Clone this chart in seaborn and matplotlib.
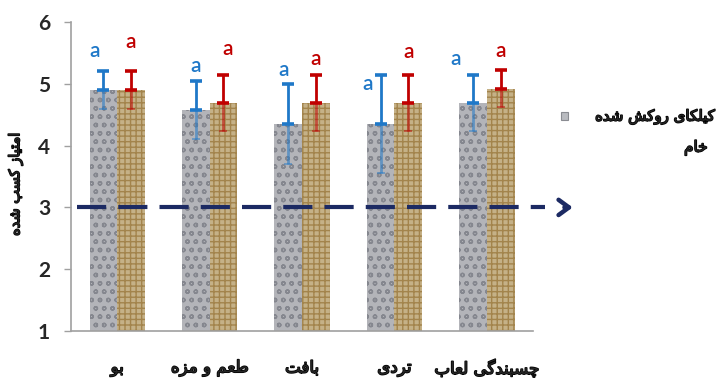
import matplotlib
matplotlib.use("Agg")
import matplotlib.pyplot as plt
import pandas as pd
import seaborn as sns
from matplotlib import patheffects as pe
from matplotlib.patches import Rectangle

# ---- data -------------------------------------------------------------
categories = ["بو", "طعم و مزه", "بافت", "تردی", "چسبندگی لعاب"]
series = ["کیلکای روکش شده", "خام"]
coated_mean = [4.90, 4.57, 4.35, 4.35, 4.69]
coated_sd = [0.30, 0.47, 0.65, 0.80, 0.45]
raw_mean = [4.90, 4.69, 4.69, 4.69, 4.92]
raw_sd = [0.30, 0.45, 0.45, 0.45, 0.30]
coated_letters = ["a", "a", "a", "a", "a"]
raw_letters = ["a", "a", "a", "a", "a"]
acceptance_limit = 3.0
y_label = "امتیاز کسب شده"
y_ticks = [1, 2, 3, 4, 5, 6]

# ---- letter placement tweaks (axis units) -----------------------------
coated_letter_dx = [-0.10, 0.00, -0.05, -0.14, -0.19]
coated_letter_dy = [0.33, 0.25, 0.23, -0.15, 0.26]
raw_letter_dx = [0.00, 0.05, 0.00, 0.00, 0.00]
raw_letter_dy = [0.48, 0.43, 0.26, 0.38, 0.31]

# ---- minimal Persian shaping (contextual forms + visual order) --------
_FORMS = {
    "ا": ("\uFE8D", "\uFE8E", None, None),
    "ب": ("\uFE8F", "\uFE90", "\uFE91", "\uFE92"),
    "ت": ("\uFE95", "\uFE96", "\uFE97", "\uFE98"),
    "خ": ("\uFEA5", "\uFEA6", "\uFEA7", "\uFEA8"),
    "د": ("\uFEA9", "\uFEAA", None, None),
    "ر": ("\uFEAD", "\uFEAE", None, None),
    "ز": ("\uFEAF", "\uFEB0", None, None),
    "س": ("\uFEB1", "\uFEB2", "\uFEB3", "\uFEB4"),
    "ش": ("\uFEB5", "\uFEB6", "\uFEB7", "\uFEB8"),
    "ط": ("\uFEC1", "\uFEC2", "\uFEC3", "\uFEC4"),
    "ع": ("\uFEC9", "\uFECA", "\uFECB", "\uFECC"),
    "ف": ("\uFED1", "\uFED2", "\uFED3", "\uFED4"),
    "ل": ("\uFEDD", "\uFEDE", "\uFEDF", "\uFEE0"),
    "م": ("\uFEE1", "\uFEE2", "\uFEE3", "\uFEE4"),
    "ن": ("\uFEE5", "\uFEE6", "\uFEE7", "\uFEE8"),
    "ه": ("\uFEE9", "\uFEEA", "\uFEEB", "\uFEEC"),
    "و": ("\uFEED", "\uFEEE", None, None),
    "ی": ("\uFBFC", "\uFBFD", "\uFBFE", "\uFBFF"),
    "ک": ("\uFB8E", "\uFB8F", "\uFB90", "\uFB91"),
    "گ": ("\uFB92", "\uFB93", "\uFB94", "\uFB95"),
    "چ": ("\uFB7A", "\uFB7B", "\uFB7C", "\uFB7D"),
}


def _joins_forward(ch):
    return ch in _FORMS and _FORMS[ch][2] is not None


def fa(text):
    out = []
    for i, ch in enumerate(text):
        if ch not in _FORMS:
            out.append(ch)
            continue
        prev = text[i - 1] if i > 0 else None
        nxt = text[i + 1] if i + 1 < len(text) else None
        cp = prev is not None and _joins_forward(prev)
        cn = _joins_forward(ch) and nxt is not None and nxt in _FORMS
        iso, fin, ini, med = _FORMS[ch]
        out.append(med if cp and cn else fin if cp else ini if cn else iso)
    return "".join(reversed(out))


# ---- styling ----------------------------------------------------------
sns.set_style("white")
plt.rcParams["font.family"] = ["DejaVu Sans"]
plt.rcParams["hatch.linewidth"] = 1.0

FA_FONT = dict(family=["DejaVu Sans"], fontweight="normal")
BOLDEN = [pe.withStroke(linewidth=1.1, foreground="black")]
NUM_FONT = dict(family=["Lato", "DejaVu Sans"], fontweight="bold")

GRAY_FACE, GRAY_HATCH = "#b2b4ba", "#85878f"
GOLD_FACE, GOLD_HATCH = "#d0b47c", "#a3844c"
BLUE, RED = "#1f78c8", "#c00000"
NAVY = "#1c2a63"
AXIS_GRAY = "#a0a0a0"

df = pd.DataFrame({
    "category": categories * 2,
    "series": [series[0]] * len(categories) + [series[1]] * len(categories),
    "score": coated_mean + raw_mean,
})

fig = plt.figure(figsize=(7.16, 3.78), dpi=100)
ax = fig.add_axes([0.0992, 0.1243, 0.6452, 0.8175])

sns.barplot(data=df, x="category", y="score", hue="series",
            order=categories, hue_order=series,
            palette=[GRAY_FACE, GOLD_FACE], width=0.6, gap=0,
            errorbar=None, legend=False, ax=ax, zorder=2)

for cont, hatch, hcol in zip(ax.containers, ["oo", "+++"], [GRAY_HATCH, GOLD_HATCH]):
    for bar in cont:
        bar.set_hatch(hatch)
        bar.set_edgecolor(hcol)
        bar.set_linewidth(0)

# error bars: upper half solid, lower half softened inside the bar
for cont, means, sds, col in zip(ax.containers, [coated_mean, raw_mean],
                                 [coated_sd, raw_sd], [BLUE, RED]):
    xs = [b.get_x() + b.get_width() / 2 for b in cont]
    ax.errorbar(xs, means, yerr=[[0] * len(sds), sds], fmt="none", ecolor=col,
                elinewidth=2.0, capsize=4, capthick=2.6, zorder=4)
    ax.errorbar(xs, means, yerr=[sds, [0] * len(sds)], fmt="none", ecolor=col,
                elinewidth=2.0, capsize=3, capthick=1.2, alpha=0.55, zorder=4)

# significance letters
for cont, means, sds, letters, dxs, dys, col in [
        (ax.containers[0], coated_mean, coated_sd, coated_letters,
         coated_letter_dx, coated_letter_dy, BLUE),
        (ax.containers[1], raw_mean, raw_sd, raw_letters,
         raw_letter_dx, raw_letter_dy, RED)]:
    for b, m, s, lt, dx, dy in zip(cont, means, sds, letters, dxs, dys):
        x = b.get_x() + b.get_width() / 2 + dx
        ax.text(x, m + s + dy, lt, color=col, fontsize=15, ha="center",
                va="center", family=["Lato", "DejaVu Sans"],
                fontweight="semibold", zorder=5)

# acceptance threshold with arrow beyond the plot
ax.plot([-0.44, 4.63], [acceptance_limit] * 2, color=NAVY, lw=3.0,
        dashes=(7.0, 2.9), clip_on=False, zorder=3)
ax.annotate("", xy=(4.93, acceptance_limit), xytext=(4.84, acceptance_limit),
            xycoords="data", annotation_clip=False,
            arrowprops=dict(arrowstyle="->,head_length=0.75,head_width=0.55",
                            color=NAVY, lw=3.2, shrinkA=0, shrinkB=0))

# axes
ax.set_ylim(1, 6)
ax.set_xlim(-0.5, len(categories) - 0.5)
ax.set_yticks(y_ticks)
ax.set_yticklabels([str(t) for t in y_ticks], fontsize=15, **NUM_FONT)
ax.set_xticks(range(len(categories)))
ax.set_xticklabels([fa(c) for c in categories], fontsize=12, **FA_FONT)
for lbl in ax.get_xticklabels():
    lbl.set_path_effects(BOLDEN)
ax.set_xticks([i - 0.5 for i in range(len(categories) + 1)], minor=True)
ax.tick_params(axis="x", which="major", length=0, pad=20)
ax.tick_params(axis="x", which="minor", length=5, color=AXIS_GRAY, width=1,
               direction="out")
ax.tick_params(axis="y", length=5, color=AXIS_GRAY, width=1, pad=10,
               direction="out", left=True)
ax.set_xlabel("")
ax.set_ylabel("")
for side in ["top", "right"]:
    ax.spines[side].set_visible(False)
for side in ["left", "bottom"]:
    ax.spines[side].set_color(AXIS_GRAY)
    ax.spines[side].set_linewidth(1.2)

fig.text(0.021, 0.513, fa(y_label), rotation=90, ha="center", va="center",
         fontsize=10.5, path_effects=BOLDEN, **FA_FONT)

# legend
fig.patches.append(Rectangle((0.783, 0.683), 0.0105, 0.02, transform=fig.transFigure,
                             facecolor="#b9bbc0", edgecolor="#8a8c92", lw=0.8))
fig.text(0.9985, 0.692, fa(series[0]), ha="right", va="center", fontsize=10.8,
         path_effects=BOLDEN, **FA_FONT)
fig.text(0.988, 0.608, fa(series[1]), ha="right", va="center", fontsize=11,
         path_effects=BOLDEN, **FA_FONT)

fig.savefig("out.png", dpi=100)
